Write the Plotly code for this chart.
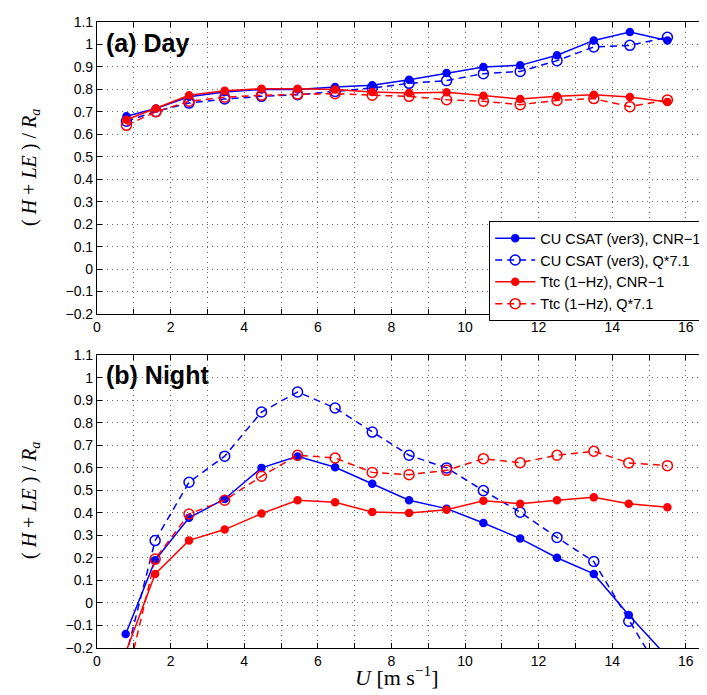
import plotly.graph_objects as go

# ---- data ----
x_day = [0.8, 1.6, 2.5, 3.47, 4.47, 5.45, 6.47, 7.48, 8.48, 9.5, 10.5, 11.5, 12.5, 13.5, 14.48, 15.5]
day_csat_cnr = [0.68, 0.715, 0.767, 0.788, 0.80, 0.80, 0.811, 0.818, 0.843, 0.873, 0.90, 0.907, 0.952, 1.018, 1.055, 1.018]
day_csat_q = [0.658, 0.702, 0.739, 0.757, 0.769, 0.776, 0.791, 0.806, 0.827, 0.839, 0.870, 0.880, 0.928, 0.989, 0.996, 1.032]
day_ttc_cnr = [0.665, 0.715, 0.774, 0.794, 0.803, 0.803, 0.80, 0.788, 0.784, 0.787, 0.772, 0.757, 0.769, 0.776, 0.766, 0.744]
day_ttc_q = [0.640, 0.70, 0.747, 0.765, 0.774, 0.779, 0.781, 0.774, 0.769, 0.754, 0.747, 0.732, 0.751, 0.759, 0.723, 0.753]

x_night = [0.78, 1.58, 2.5, 3.47, 4.47, 5.45, 6.47, 7.48, 8.48, 9.5, 10.5, 11.5, 12.5, 13.5, 14.45, 15.5]
night_csat_cnr = [-0.138, 0.19, 0.378, 0.462, 0.600, 0.651, 0.603, 0.530, 0.456, 0.419, 0.355, 0.286, 0.201, 0.129, -0.053, -0.24]
night_csat_q = [-0.24, 0.277, 0.536, 0.652, 0.848, 0.937, 0.866, 0.759, 0.656, 0.600, 0.499, 0.403, 0.291, 0.184, -0.081, -0.36]
night_ttc_cnr = [-0.22, 0.129, 0.278, 0.326, 0.397, 0.456, 0.447, 0.404, 0.400, 0.414, 0.454, 0.441, 0.456, 0.469, 0.441, 0.425]
night_ttc_q = [-0.36, 0.195, 0.395, 0.456, 0.563, 0.656, 0.644, 0.580, 0.570, 0.589, 0.641, 0.623, 0.656, 0.674, 0.622, 0.610]

series_names = ["CU CSAT (ver3), CNR\u22121", "CU CSAT (ver3), Q*7.1",
                "Ttc (1\u2212Hz), CNR\u22121", "Ttc (1\u2212Hz), Q*7.1"]

x_tickvals = list(range(0, 17))
x_ticktext = [str(v) if v % 2 == 0 else "" for v in x_tickvals]
y_tickvals = [round(-0.2 + 0.1 * i, 1) for i in range(14)]
y_ticktext = ["\u22120.2", "\u22120.1", "0", "0.1", "0.2", "0.3", "0.4", "0.5",
              "0.6", "0.7", "0.8", "0.9", "1", "1.1"]

BLUE = "#0000ff"
RED = "#ff0000"

fig = go.Figure()

def add_set(x, ys, xa, ya, showleg):
    styles = [
        (BLUE, "solid", "circle", 7),
        (BLUE, "7px,5px", "circle-open", 10),
        (RED, "solid", "circle", 7),
        (RED, "7px,5px", "circle-open", 10),
    ]
    for (c, d, sym, sz), y, name in zip(styles, ys, series_names):
        fig.add_trace(go.Scatter(
            x=x, y=y, mode="lines+markers", name=name, xaxis=xa, yaxis=ya,
            line=dict(color=c, width=1.5, dash=d),
            marker=dict(color=c, symbol=sym, size=sz, line=dict(color=c, width=1.5)),
            showlegend=showleg,
        ))

add_set(x_day, [day_csat_cnr, day_csat_q, day_ttc_cnr, day_ttc_q], "x", "y", True)
add_set(x_night, [night_csat_cnr, night_csat_q, night_ttc_cnr, night_ttc_q], "x2", "y2", False)

W, H = 707, 695
L, R, T, B = 89, 0, 14, 55
ph = H - T - B
pw = W - L - R

def py(p):
    return (H - B - p) / ph

axis_common = dict(
    showline=True, linecolor="black", linewidth=1.2, mirror="ticks",
    ticks="inside", ticklen=5, tickcolor="black", tickwidth=1,
    showgrid=True, gridcolor="rgba(0,0,0,0.6)", gridwidth=1, griddash="1px,4px",
    zeroline=False, tickfont=dict(family="Liberation Sans, Arial", size=14, color="black"),
)

xaxis = dict(axis_common, range=[0, pw / 36.8], tickmode="array",
             tickvals=x_tickvals, ticktext=x_ticktext)
yaxis = dict(axis_common, range=[-0.2, 1.1], tickmode="array",
             tickvals=y_tickvals, ticktext=y_ticktext)

fig.update_layout(
    width=W, height=H,
    margin=dict(l=L, r=R, t=T, b=B),
    paper_bgcolor="white", plot_bgcolor="white",
    xaxis=dict(xaxis, domain=[0, 1], anchor="y"),
    yaxis=dict(yaxis, domain=[py(306), 1], anchor="x"),
    xaxis2=dict(xaxis, domain=[0, 1], anchor="y2"),
    yaxis2=dict(yaxis, domain=[0, py(347.3)], anchor="x2"),
    legend=dict(
        x=(481 - L) / pw, y=py(213), xanchor="left", yanchor="top",
        bgcolor="white", bordercolor="black", borderwidth=1.2,
        font=dict(family="Liberation Sans, Arial", size=14.5, color="black"),
        tracegroupgap=0, itemwidth=40,
    ),
    showlegend=True,
)

serif = "Liberation Serif, DejaVu Serif, serif"
ytitle = "( <i>H</i> + <i>LE</i> ) / <i>R<sub>a</sub></i>"
annots = [
    dict(text="<b>(a) Day</b>", x=(96 - L) / pw, y=py(35), xanchor="left", yanchor="middle",
         font=dict(family="Liberation Sans, Arial", size=25, color="black")),
    dict(text="<b>(b) Night</b>", x=(96 - L) / pw, y=py(367), xanchor="left", yanchor="middle",
         font=dict(family="Liberation Sans, Arial", size=25, color="black")),
    dict(text=ytitle, x=(22 - L) / pw, y=py(160), xanchor="center", yanchor="middle",
         textangle=-90, font=dict(family=serif, size=20, color="black")),
    dict(text=ytitle, x=(22 - L) / pw, y=py(493), xanchor="center", yanchor="middle",
         textangle=-90, font=dict(family=serif, size=20, color="black")),
    dict(text="<i>U</i> [m s<sup>\u22121</sup>]", x=(389 - L) / pw, y=py(668),
         xanchor="center", yanchor="middle", font=dict(family=serif, size=22, color="black")),
]
for a in annots:
    a.update(xref="paper", yref="paper", showarrow=False)
fig.update_layout(annotations=annots)

fig.write_html("out.html")
